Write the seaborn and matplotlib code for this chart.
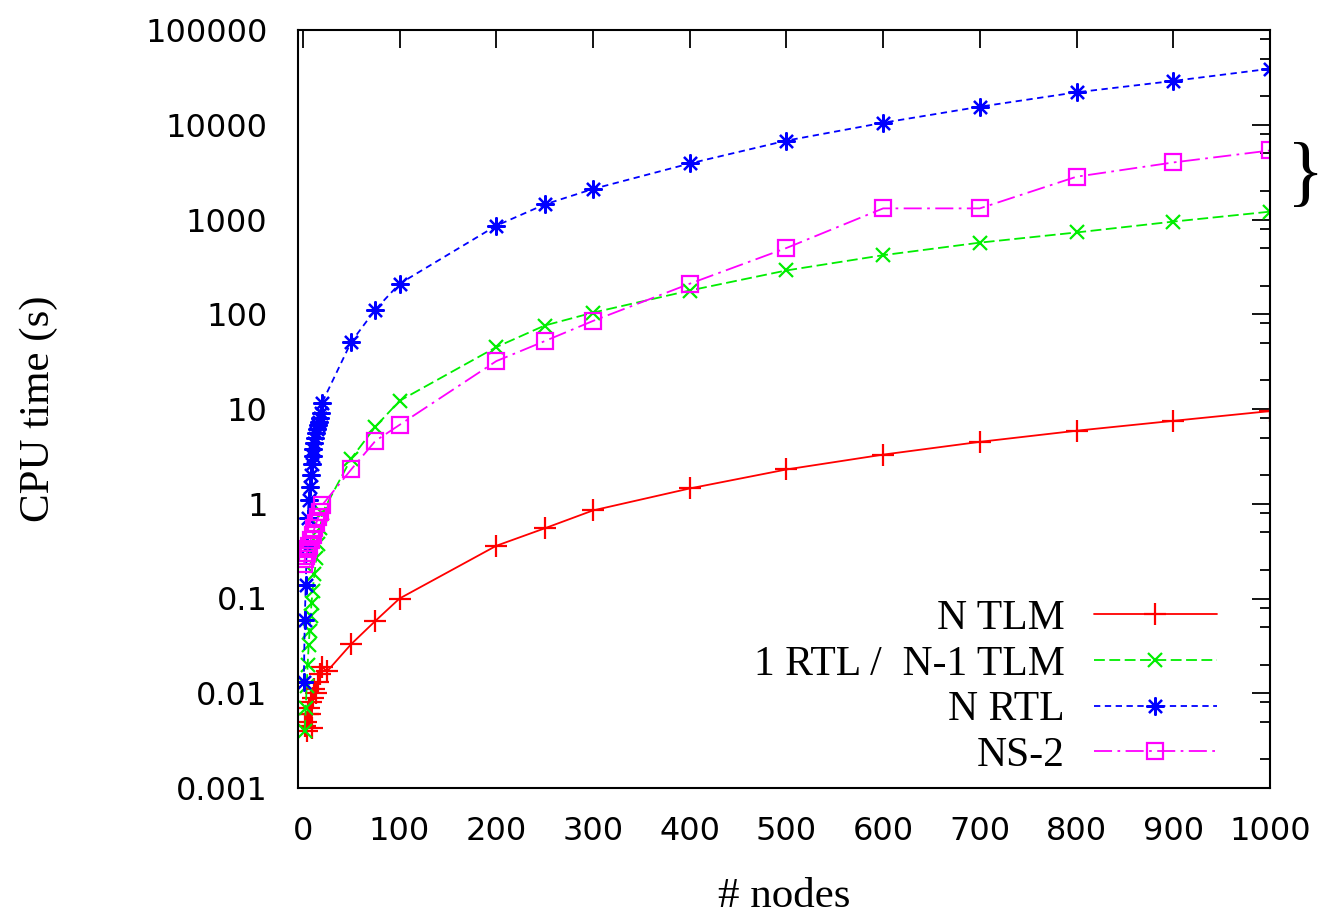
import pandas as pd
import matplotlib
matplotlib.use('Agg')
import matplotlib.pyplot as plt
import seaborn as sns
import numpy as np
from matplotlib.ticker import FixedLocator, FuncFormatter, LogLocator, NullFormatter

# data (x = number of nodes, y = CPU time in s)
tlm_x = [2, 3, 4, 5, 6, 7, 8, 9, 10, 12, 14, 16, 18, 20, 25,
         50, 75, 100, 200, 250, 300, 400, 500, 600, 700, 800, 900, 1000]
tlm_y = [0.0045, 0.005, 0.004, 0.006, 0.007, 0.006, 0.008, 0.0043, 0.009, 0.011, 0.010, 0.013, 0.016, 0.019, 0.017,
         0.033, 0.058, 0.10, 0.36, 0.55, 0.85, 1.45, 2.3, 3.3, 4.5, 5.9, 7.5, 9.5]

mixed_x = [2, 3, 4, 5, 6, 7, 8, 9, 10, 12, 14, 16, 18, 20,
           50, 75, 100, 200, 250, 300, 400, 500, 600, 700, 800, 900, 1000]
mixed_y = [0.004, 0.007, 0.012, 0.02, 0.032, 0.045, 0.065, 0.09, 0.12, 0.18, 0.27, 0.38, 0.55, 0.8,
           3.0, 6.5, 12.2, 45, 76, 104, 178, 290, 420, 570, 730, 950, 1210]

rtl_x = [1, 2, 3, 4, 5, 6, 7, 8, 9, 10, 11, 12, 13, 14, 15, 16, 17, 18, 19, 20,
         50, 75, 100, 200, 250, 300, 400, 500, 600, 700, 800, 900, 1000]
rtl_y = [0.013, 0.06, 0.14, 0.35, 0.7, 1.1, 1.5, 2.0, 2.6, 3.2, 3.8, 4.4, 5.0, 5.6, 6.2, 6.8, 7.3, 8.0, 9.0, 11.7,
         51, 112, 210, 860, 1440, 2100, 3900, 6800, 10500, 15500, 22000, 29000, 39000]

ns2_x = [1, 2, 3, 4, 5, 6, 8, 10, 12, 14, 16, 18, 20,
         50, 75, 100, 200, 250, 300, 400, 500, 600, 700, 800, 900, 1000]
ns2_y = [0.23, 0.26, 0.28, 0.30, 0.33, 0.36, 0.41, 0.47, 0.55, 0.63, 0.72, 0.82, 0.97,
         2.3, 4.6, 6.8, 32, 52, 85, 210, 500, 1310, 1310, 2830, 4000, 5350]

series = [
    ('N TLM', tlm_x, tlm_y, '#ff0000', '-', '+', 16, 'full'),
    ('1 RTL /  N-1 TLM', mixed_x, mixed_y, '#00ee00', (0, (6, 2.5)), 'x', 10, 'full'),
    ('N RTL', rtl_x, rtl_y, '#0000ff', (0, (3.5, 2.5)), (8, 2, 0), 13, 'full'),
    ('NS-2', ns2_x, ns2_y, '#ff00ff', (0, (10, 3, 1.5, 3)), 's', 11, 'none'),
]

sns.set_style('white')
plt.rcParams['font.family'] = ['Liberation Serif', 'DejaVu Serif']
plt.rcParams['text.color'] = 'black'
plt.rcParams['axes.labelcolor'] = 'black'
plt.rcParams['xtick.color'] = 'black'
plt.rcParams['ytick.color'] = 'black'

fig = plt.figure(figsize=(13.27, 9.18), dpi=100)
ax = fig.add_axes([298 / 1327, 1 - 788 / 918, 972 / 1327, 758 / 918])

for name, xs, ys, col, ls, mk, ms, fill in series:
    df = pd.DataFrame({'nodes': xs, 'cpu': ys})
    sns.lineplot(data=df, x='nodes', y='cpu', ax=ax, color=col, linestyle=ls,
                 linewidth=1.3, marker=mk, markersize=ms, markeredgewidth=1.6,
                 markeredgecolor=col, markerfacecolor='none' if fill == 'none' else col,
                 estimator=None, sort=False, label=name)

ax.set_yscale('log')
ax.set_xlim(-5, 1000)
ax.set_ylim(0.001, 100000)

ax.xaxis.set_major_locator(FixedLocator(np.arange(0, 1001, 100)))
ax.yaxis.set_major_locator(FixedLocator([10.0 ** k for k in range(-3, 6)]))
ax.yaxis.set_major_formatter(FuncFormatter(lambda v, p: '%g' % v))
ax.yaxis.set_minor_locator(LogLocator(base=10, subs=[2, 5, 8]))
ax.yaxis.set_minor_formatter(NullFormatter())

ax.tick_params(which='both', direction='in', top=True, right=True, color='black', width=1.3)
ax.tick_params(which='major', length=13)
ax.tick_params(which='minor', length=7)
ax.tick_params(axis='y', which='major', pad=22)
ax.tick_params(axis='x', which='major', pad=20)
for t in ax.get_xticklabels() + ax.get_yticklabels():
    t.set_family('DejaVu Sans')
    t.set_fontsize(23)
    t.set_color('black')
for s in ax.spines.values():
    s.set_color('black')
    s.set_linewidth(1.5)

ax.set_xlabel('# nodes', fontsize=31)
ax.set_ylabel('CPU time (s)', fontsize=31)
ax.xaxis.set_label_coords(0.5, -0.118)
ax.yaxis.set_label_coords(-0.247, 0.5)

leg = ax.legend(loc='lower right', bbox_to_anchor=(0.975, -0.021), frameon=False,
                markerfirst=False, fontsize=30, handlelength=2.95, handletextpad=0.7,
                labelspacing=0.17, borderpad=0.2)

# brace on the right of the chart
fig.text(1306 / 1327, 1 - 178 / 918, '}', fontsize=56, ha='center', va='center',
         family='Liberation Serif')

plt.savefig('out.png', dpi=100)
plt.close()
